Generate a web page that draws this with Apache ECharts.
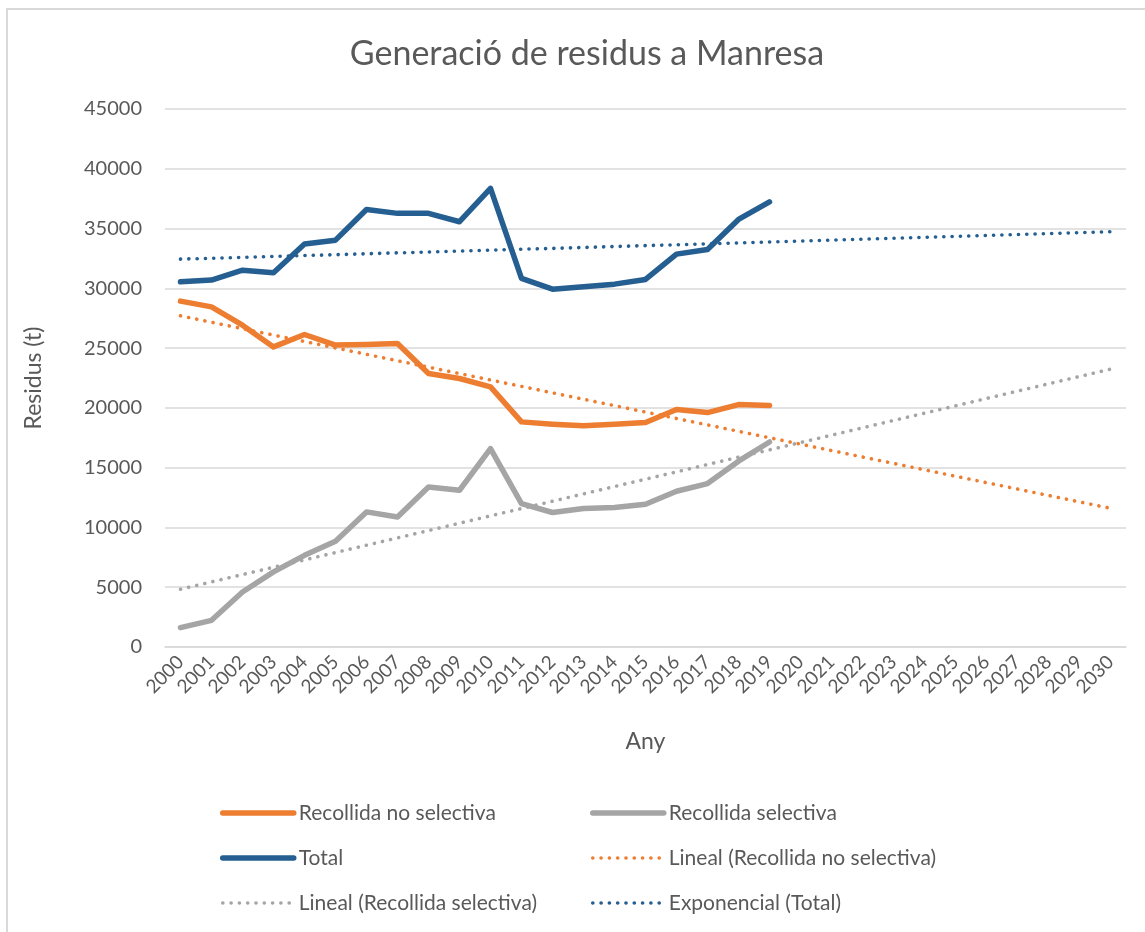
<!DOCTYPE html>
<html>
<head>
<meta charset="utf-8">
<title>Generació de residus a Manresa</title>
<script src="https://cdn.jsdelivr.net/npm/echarts@6/dist/echarts.min.js"></script>
<style>
  html, body { margin: 0; padding: 0; background: #fff; }
  #chart { width: 1145px; height: 932px; }
</style>
</head>
<body>
<div id="chart"></div>
<script>
// anys 2000-2030 (les dades arriben fins al 2019)
var years = []
for (var y = 2000; y <= 2030; y++) years.push(String(y))

var noSelectiva = [28930, 28450, 26920, 25100, 26140, 25250, 25300, 25390, 22880, 22460,
  21760, 18830, 18640, 18500, 18640, 18780, 19870, 19610, 20280, 20200]
var selectiva = [1620, 2230, 4600, 6280, 7670, 8850, 11300, 10880, 13390, 13110,
  16600, 12000, 11250, 11580, 11660, 11940, 13030, 13670, 15540, 17150]
var total = [30550, 30690, 31520, 31300, 33700, 34030, 36600, 36270, 36270, 35570,
  38360, 30830, 29930, 30130, 30350, 30740, 32860, 33250, 35760, 37240]

// tendències llegides del gràfic (2000, 2010, 2020, 2030)
var trendYears = ['2000', '2010', '2020', '2030']
var trendNoSelectiva = [27700, null, null, 11600]
var trendSelectiva = [4830, null, null, 23240]
var trendTotal = [32440, 33190, 33950, 34730]

var yTicks = { min: 0, max: 45000, interval: 5000 }

var ORANGE = '#ED7D31'
var GRAY = '#A5A5A5'
var BLUE = '#255E91'
var TEXT = '#595959'
var FONT = 'Lato, "Open Sans", sans-serif'

var SOLID = { width: 5.5, type: 'solid', cap: 'round', join: 'round' }
var DOTS = { width: 3.6, type: [0.1, 8.2], cap: 'round' }

function toSeries(keys, vals) {
  var out = years.map(function() { return null })
  keys.forEach(function(k, i) { out[years.indexOf(k)] = vals[i] })
  return out
}

function makeLine(name, color, data, style) {
  return {
    name: name,
    type: 'line',
    data: data,
    symbol: 'none',
    silent: true,
    connectNulls: true,
    lineStyle: Object.assign({ color: color }, style),
    itemStyle: { color: color }
  }
}

function legendItem(name, style) {
  return { name: name, itemStyle: { opacity: 0 }, lineStyle: Object.assign({}, style) }
}

function legendColumn(left, items) {
  return {
    orient: 'vertical',
    left: left,
    top: 802,
    padding: 0,
    itemWidth: 71,
    itemHeight: 22,
    itemGap: 23,
    data: items,
    textStyle: { fontFamily: FONT, fontSize: 21, lineHeight: 22, color: TEXT }
  }
}

var chart = echarts.init(document.getElementById('chart'))
chart.setOption({
  animation: false,
  backgroundColor: '#fff',
  textStyle: { fontFamily: FONT },
  graphic: [{
    type: 'rect',
    shape: { x: 7, y: 9, width: 1300, height: 1000 },
    style: { fill: 'none', stroke: '#d9d9d9', lineWidth: 2 },
    silent: true
  }],
  title: {
    text: 'Generació de residus a Manresa',
    left: 582,
    top: 32,
    textAlign: 'center',
    textStyle: { fontFamily: FONT, fontSize: 34, fontWeight: 'normal', color: TEXT }
  },
  legend: [
    legendColumn(220, [
      legendItem('Recollida no selectiva', SOLID),
      legendItem('Total', SOLID),
      legendItem('Lineal (Recollida selectiva)', DOTS)
    ]),
    legendColumn(590, [
      legendItem('Recollida selectiva', SOLID),
      legendItem('Lineal (Recollida no selectiva)', DOTS),
      legendItem('Exponencial (Total)', DOTS)
    ])
  ],
  grid: {
    left: 165,
    right: 19,
    top: 109,
    bottom: 285,
    containLabel: false,
    outerBoundsMode: 'none'
  },
  xAxis: {
    type: 'category',
    data: years,
    boundaryGap: true,
    name: 'Any',
    nameLocation: 'middle',
    nameGap: 83,
    nameTextStyle: { fontFamily: FONT, fontSize: 23, color: TEXT },
    axisTick: { show: false },
    axisLine: { lineStyle: { color: '#d9d9d9', width: 1.5 } },
    axisLabel: { interval: 0, rotate: 45, margin: 12, fontSize: 19, color: TEXT, fontFamily: FONT }
  },
  yAxis: {
    type: 'value',
    min: yTicks.min,
    max: yTicks.max,
    interval: yTicks.interval,
    name: 'Residus (t)',
    nameLocation: 'middle',
    nameGap: 120,
    nameTextStyle: { fontFamily: FONT, fontSize: 23, color: TEXT },
    axisLine: { show: false },
    axisTick: { show: false },
    splitLine: { lineStyle: { color: '#d9d9d9', width: 1.5 } },
    axisLabel: {
      margin: 23, fontSize: 20, color: TEXT, fontFamily: FONT,
      formatter: function(v) { return String(v) }
    }
  },
  series: [
    makeLine('Recollida no selectiva', ORANGE, noSelectiva, SOLID),
    makeLine('Recollida selectiva', GRAY, selectiva, SOLID),
    makeLine('Total', BLUE, total, SOLID),
    makeLine('Lineal (Recollida no selectiva)', ORANGE, toSeries(trendYears, trendNoSelectiva), DOTS),
    makeLine('Lineal (Recollida selectiva)', GRAY, toSeries(trendYears, trendSelectiva), DOTS),
    makeLine('Exponencial (Total)', BLUE, toSeries(trendYears, trendTotal), DOTS)
  ]
})
</script>
</body>
</html>
